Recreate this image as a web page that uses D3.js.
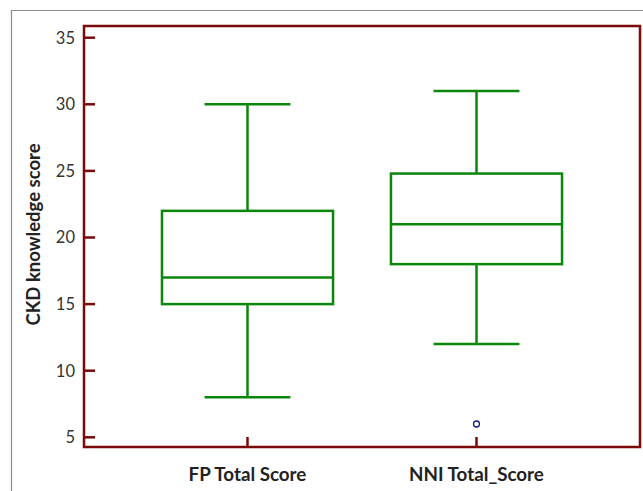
<!DOCTYPE html>
<html>
<head>
<meta charset="utf-8">
<script src="https://cdn.jsdelivr.net/npm/d3@7"></script>
<style>
  body { margin: 0; background: #fff; }
  svg { display: block; }
</style>
</head>
<body>
<div id="chart"></div>
<script>
// box plot data
const groups = ["FP Total Score", "NNI Total_Score"];
const whiskerLow = [8, 12];
const q1 = [15, 18];
const medians = [17, 21];
const q3 = [22, 24.8];
const whiskerHigh = [30, 31];
const outliers = [[], [6]];
const yTicks = [5, 10, 15, 20, 25, 30, 35];

const W = 643, H = 491;
const plotLeft = 84, plotRight = 640, plotTop = 26, plotBottom = 447;
const axisColor = "#7a0a0a";
const boxColor = "#0a860a";

const svg = d3.select("#chart").append("svg")
  .attr("width", W)
  .attr("height", H);

// outer grey frame
svg.append("path")
  .attr("d", `M11.5,${H} V10.5 H${W}`)
  .attr("fill", "none")
  .attr("stroke", "#8a8a8a")
  .attr("stroke-width", 1.2);

const x = d3.scalePoint()
  .domain(groups)
  .range([plotLeft, plotRight])
  .padding(0.714);

const y = d3.scaleLinear()
  .domain([5, 35])
  .range([437.3, 37.7]);

const boxW = x.step() * 0.747;
const capW = x.step() * 0.375;

// plot frame
svg.append("rect")
  .attr("x", plotLeft)
  .attr("y", plotTop)
  .attr("width", plotRight - plotLeft)
  .attr("height", plotBottom - plotTop)
  .attr("fill", "none")
  .attr("stroke", axisColor)
  .attr("stroke-width", 2.5);

// y ticks pointing inward
const yAxis = svg.append("g");
yAxis.selectAll("line")
  .data(yTicks)
  .join("line")
  .attr("x1", plotLeft)
  .attr("x2", plotLeft + 11)
  .attr("y1", d => y(d))
  .attr("y2", d => y(d))
  .attr("stroke", axisColor)
  .attr("stroke-width", 2.5);

yAxis.selectAll("text")
  .data(yTicks)
  .join("text")
  .attr("x", plotLeft - 9)
  .attr("y", d => y(d))
  .attr("dy", "0.36em")
  .attr("text-anchor", "end")
  .attr("font-family", "Lato, 'Open Sans', sans-serif")
  .attr("font-size", 16.5)
  .attr("fill", "#333")
  .text(d => d);

// x ticks pointing upward
const xAxis = svg.append("g");
xAxis.selectAll("line")
  .data(groups)
  .join("line")
  .attr("x1", d => x(d))
  .attr("x2", d => x(d))
  .attr("y1", plotBottom)
  .attr("y2", plotBottom - 10)
  .attr("stroke", axisColor)
  .attr("stroke-width", 2.5);

xAxis.selectAll("text")
  .data(groups)
  .join("text")
  .attr("x", d => x(d))
  .attr("y", 481)
  .attr("text-anchor", "middle")
  .attr("font-family", "Lato, 'Open Sans', sans-serif")
  .attr("font-weight", "bold")
  .attr("font-size", 18.8)
  .attr("fill", "#222")
  .text(d => d);

// y axis title
svg.append("text")
  .attr("transform", `translate(40,${(142 + 327) / 2}) rotate(-90)`)
  .attr("text-anchor", "middle")
  .attr("font-family", "Lato, 'Open Sans', sans-serif")
  .attr("font-weight", "bold")
  .attr("font-size", 18.5)
  .attr("fill", "#222")
  .text("CKD knowledge score");

// boxes
const boxes = svg.selectAll("g.box")
  .data(groups)
  .join("g")
  .attr("class", "box");

boxes.each(function(g, i) {
  const el = d3.select(this);
  const cx = x(g);
  const stroke = s => s.attr("stroke", boxColor).attr("stroke-width", 2.5).attr("fill", "none");

  // whiskers
  el.append("line").call(stroke)
    .attr("x1", cx).attr("x2", cx)
    .attr("y1", y(whiskerHigh[i])).attr("y2", y(q3[i]));
  el.append("line").call(stroke)
    .attr("x1", cx).attr("x2", cx)
    .attr("y1", y(q1[i])).attr("y2", y(whiskerLow[i]));
  el.append("line").call(stroke)
    .attr("x1", cx - capW / 2).attr("x2", cx + capW / 2)
    .attr("y1", y(whiskerHigh[i])).attr("y2", y(whiskerHigh[i]));
  el.append("line").call(stroke)
    .attr("x1", cx - capW / 2).attr("x2", cx + capW / 2)
    .attr("y1", y(whiskerLow[i])).attr("y2", y(whiskerLow[i]));

  // box + median
  el.append("rect").call(stroke)
    .attr("x", cx - boxW / 2)
    .attr("y", y(q3[i]))
    .attr("width", boxW)
    .attr("height", y(q1[i]) - y(q3[i]));
  el.append("line").call(stroke)
    .attr("x1", cx - boxW / 2).attr("x2", cx + boxW / 2)
    .attr("y1", y(medians[i])).attr("y2", y(medians[i]));

  // outliers
  el.selectAll("circle")
    .data(outliers[i])
    .join("circle")
    .attr("cx", cx)
    .attr("cy", d => y(d))
    .attr("r", 3)
    .attr("fill", "none")
    .attr("stroke", "#1a1a8c")
    .attr("stroke-width", 1.3);
});
</script>
</body>
</html>
